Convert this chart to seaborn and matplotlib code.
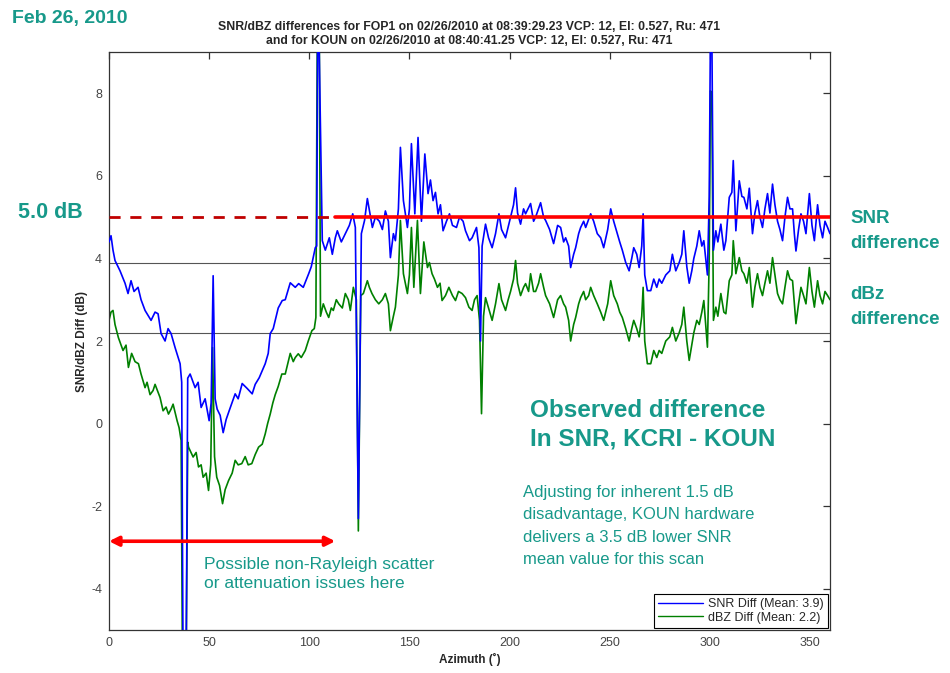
import numpy as np
import pandas as pd
import matplotlib
matplotlib.use("Agg")
import matplotlib.pyplot as plt
import seaborn as sns
from matplotlib.lines import Line2D

# ---------------- data ----------------
SNR_AZ = [0, 1, 2, 3, 5.5, 8, 9.5, 11, 12.5, 14.5, 16, 18, 21, 23, 24.5, 26, 28, 29.5, 31, 33,
          35.5, 36.3, 37, 38.5, 39.3, 40.5, 43, 44.5, 46, 48, 50, 51, 52, 53, 54, 55.5, 57, 58.5,
          60, 63, 64.5, 66.5, 69, 71.5, 73, 75, 78, 79.5, 80.5, 82, 83, 84.5, 86.5, 88, 90.5, 93,
          94.7, 97, 99.7, 101, 103, 103.7, 104.2, 104.8, 106.5, 108, 110, 111.5, 113, 114, 116,
          118, 120, 121.7, 123, 124.5, 126, 127.6, 129, 131.5, 133, 135, 136.5, 138, 139.5,
          140.5, 142, 143, 144.5, 145.5, 147, 149, 150, 151, 152.7, 154.3, 156, 157.7, 159.3,
          160.5, 161.8, 163, 164.3, 165.5, 166.8, 168.5, 170, 171.5, 173.5, 175, 176.8, 178,
          180, 181.3, 183.5, 184.7, 185.5, 186.3, 188, 189.5, 191.3, 193, 194.7, 196, 198,
          200.5, 202, 203, 204, 205.5, 207, 208, 210.5, 212, 213, 215.5, 217, 218, 220, 222,
          224, 225.5, 227, 228, 229.5, 230.5, 232, 233, 234.5, 235.5, 237, 238, 240.5, 242,
          243.8, 245.5, 247, 249, 250.5, 252, 253.8, 255, 256.3, 258, 259.7, 261, 262, 263.5,
          264.7, 266, 266.7, 267.5, 268.8, 270.5, 272, 273.5, 274.7, 276, 278, 280, 281.3, 283,
          284.7, 286, 287, 288.5, 289.7, 291, 292, 293.5, 294.7, 296, 297, 298.8, 299.7, 300.3,
          301, 301.8, 303, 304, 305.5, 307, 308, 309.7, 311, 311.7, 313, 314.7, 316, 317,
          318.5, 319.7, 321.3, 322.5, 323.8, 325, 326.3, 327.5, 328.8, 330, 331.3, 332.5,
          333.8, 335, 336.3, 337.5, 338.8, 340, 341.3, 342.2, 343, 344.3, 345.5, 346.8, 348,
          349.7, 351, 352.2, 353.8, 355, 356.3, 357.5, 358.8, 360]
SNR_DIFF = [4.4, 4.55, 4.2, 3.95, 3.7, 3.4, 3.15, 3.46, 3.2, 3.3, 3.0, 2.74, 2.5, 2.7, 2.66, 2.18,
            2.0, 2.3, 2.18, 1.84, 1.45, 1.0, -6, -6, 1.1, 1.2, 0.87, 1.0, 0.39, 0.6, 0.07, 0.5,
            3.58, 0.6, 0.35, 0.2, -0.22, 0.1, 0.31, 0.72, 0.6, 0.97, 0.85, 0.72, 0.95, 1.11,
            1.45, 1.7, 2.18, 2.3, 2.5, 2.8, 2.98, 3.0, 3.41, 3.3, 3.39, 3.3, 3.63, 3.8, 4.26,
            4.3, 9.5, 9.5, 4.43, 4.2, 4.5, 4.1, 4.5, 4.67, 4.4, 4.6, 4.8, 5.08, 4.75, -2.3, 4.6,
            4.92, 5.45, 4.75, 5.0, 4.9, 4.7, 5.15, 4.9, 4.02, 4.6, 4.43, 5.2, 6.69, 5.4, 4.75,
            5.2, 6.78, 5.08, 6.93, 4.9, 6.53, 5.57, 5.9, 5.4, 5.6, 5.08, 5.3, 4.67, 4.9, 5.08,
            4.8, 4.75, 5.0, 4.9, 4.67, 4.43, 4.5, 4.75, 4.26, 2.0, 4.3, 4.83, 4.5, 4.26, 4.6,
            5.08, 4.7, 4.5, 5.0, 5.3, 5.71, 5.1, 4.83, 5.2, 5.08, 5.33, 4.9, 5.0, 5.35, 5.0,
            4.92, 4.7, 4.36, 4.8, 4.75, 4.4, 4.5, 4.3, 3.78, 4.1, 4.26, 4.6, 4.75, 4.9, 4.75,
            5.08, 4.9, 4.6, 4.5, 4.26, 4.7, 5.2, 4.9, 4.6, 4.4, 4.2, 3.9, 3.7, 4.0, 4.26, 4.1,
            3.78, 4.3, 5.08, 3.6, 3.22, 3.22, 3.5, 3.3, 3.5, 3.4, 3.6, 3.7, 4.1, 3.7, 3.9, 4.1,
            4.67, 3.8, 3.4, 3.7, 4.0, 4.3, 4.67, 4.3, 4.43, 3.6, 5.5, 9.5, 9.5, 4.2, 4.67, 4.4,
            4.83, 4.2, 4.43, 5.48, 5.6, 6.37, 4.67, 5.88, 5.5, 5.48, 5.2, 5.7, 4.6, 5.1, 5.4,
            5.0, 4.75, 5.2, 5.57, 5.1, 5.8, 5.3, 4.9, 4.7, 4.43, 5.0, 5.48, 5.2, 5.2, 4.6, 4.18,
            4.7, 5.08, 4.9, 4.6, 5.57, 4.8, 4.43, 5.3, 4.8, 4.5, 4.9, 4.75, 4.6]

DBZ_AZ = [0, 1, 2, 3, 4.7, 7, 8.5, 9.7, 11.3, 13, 14.7, 16, 18, 19, 20.5, 22, 23, 25.5, 27, 28.5,
          29.7, 31, 32, 34, 35, 36, 36.7, 38.5, 39.3, 39.7, 42, 43.5, 44.7, 46, 47, 48.5, 49.7,
          50.8, 51.7, 52.7, 53.8, 55.2, 56.7, 58, 59.7, 61.5, 63, 64.5, 66.3, 68, 69.5, 71.3,
          73, 74.7, 76.5, 78, 79.2, 80.5, 81.8, 83, 84.5, 86.3, 88, 89.5, 90.5, 92, 93, 94.5,
          96, 98, 99.5, 101.3, 102.5, 103.3, 104, 105, 105.6, 107, 108.5, 109.7, 111, 112,
          113.5, 114.7, 116.5, 118, 119.5, 120.5, 122, 123.5, 124.5, 125.7, 127, 129, 130,
          131.3, 133, 134.7, 136.5, 138, 139.5, 140.5, 142, 143, 144.5, 145.5, 147, 149, 150,
          151, 152.2, 154, 155.5, 157.2, 159, 160, 161.3, 162.5, 164, 165.3, 166.3, 168,
          169.7, 171.5, 173, 174.5, 176.3, 178, 179.7, 181.3, 182.5, 183.8, 185, 186, 187,
          188, 189.5, 191.3, 193, 194.7, 196, 198, 199.3, 200.5, 202, 203, 204, 205.5, 207,
          208, 209.5, 210.5, 212, 213, 214.5, 215.5, 217, 218, 220, 222, 224, 225.5, 227, 228,
          229.5, 230.5, 232, 233, 234.5, 235.5, 237, 238, 239.5, 240.5, 242, 243.8, 245.5,
          247, 249, 250.5, 252, 253.8, 255, 256.3, 258, 259.7, 261, 262, 263.5, 264.7, 266,
          266.7, 267.5, 268.8, 270.5, 272, 273.5, 274.7, 276, 278, 280, 281.3, 283, 284.7,
          286, 287, 288.5, 289.7, 291, 292, 293.5, 294.7, 296, 297, 298.8, 299.7, 300.3, 301,
          301.8, 303, 304, 305.5, 307, 308, 309.7, 311, 311.7, 313, 314.7, 316, 317, 318.5,
          319.7, 321.3, 322.5, 323.8, 325, 326.3, 327.5, 328.8, 330, 331.3, 332.5, 333.8, 335,
          336.3, 337.5, 338.8, 340, 341.3, 342.2, 343, 344.3, 345.5, 346.8, 348, 349.7, 351,
          352.2, 353.8, 355, 356.3, 357.5, 358.8, 360]
DBZ_DIFF = [2.5, 2.7, 2.74, 2.4, 2.08, 1.77, 1.9, 1.36, 1.7, 1.5, 1.45, 1.2, 0.87, 1.0, 0.7, 0.8,
            0.95, 0.63, 0.31, 0.4, 0.23, 0.35, 0.47, 0.07, -0.1, -0.41, -6, -6, -0.45, -0.57,
            -0.81, -0.7, -1.05, -1.0, -1.3, -1.2, -1.62, -1.0, 1.84, -0.8, -1.3, -1.5, -1.94,
            -1.6, -1.38, -1.2, -0.89, -1.0, -0.97, -0.8, -1.0, -0.97, -0.75, -0.57, -0.5, -0.25,
            0.0, 0.23, 0.5, 0.7, 0.9, 1.2, 1.2, 1.5, 1.7, 1.5, 1.6, 1.69, 1.6, 1.77, 2.0, 2.25,
            2.3, 2.57, 9.5, 9.5, 2.6, 2.9, 2.7, 2.57, 2.8, 2.74, 3.0, 2.9, 2.8, 3.15, 3.0, 2.74,
            3.3, 3.0, -2.6, 3.1, 3.15, 3.46, 3.3, 3.15, 3.0, 2.9, 3.0, 3.15, 2.9, 2.25, 2.6,
            2.82, 3.6, 4.92, 3.63, 3.15, 3.6, 4.75, 3.3, 4.92, 3.15, 4.4, 3.78, 3.9, 3.63, 3.5,
            3.3, 3.4, 2.98, 3.1, 3.3, 3.1, 2.98, 3.2, 3.15, 3.05, 2.82, 2.74, 3.0, 3.1, 2.5,
            0.24, 2.6, 3.05, 2.8, 2.5, 2.9, 3.39, 3.0, 2.74, 3.0, 3.2, 3.5, 3.95, 3.4, 3.1, 3.3,
            3.39, 3.2, 3.63, 3.2, 3.2, 3.4, 3.63, 3.3, 3.1, 2.9, 2.57, 3.0, 3.1, 2.9, 2.82, 2.5,
            2.0, 2.4, 2.57, 2.9, 3.05, 3.2, 3.0, 3.1, 3.3, 3.1, 2.9, 2.7, 2.5, 2.9, 3.46, 3.1,
            2.9, 2.7, 2.57, 2.3, 2.0, 2.3, 2.5, 2.3, 2.1, 2.6, 3.3, 2.0, 1.45, 1.45, 1.77, 1.6,
            1.77, 1.7, 2.0, 2.1, 2.33, 2.0, 2.2, 2.4, 2.82, 2.0, 1.53, 1.9, 2.2, 2.5, 2.4, 2.7,
            2.98, 1.85, 4.0, 8.06, 8.0, 2.5, 2.82, 2.6, 3.15, 2.7, 2.66, 3.46, 3.6, 4.43, 3.63,
            4.02, 3.7, 3.63, 3.4, 3.78, 2.82, 3.3, 3.63, 3.3, 3.1, 3.4, 3.7, 3.4, 4.02, 3.6,
            3.15, 3.0, 2.9, 3.3, 3.7, 3.5, 3.46, 2.9, 2.42, 2.9, 3.3, 3.1, 2.9, 3.78, 3.2, 2.82,
            3.46, 3.1, 2.9, 3.2, 3.1, 3.0]

SNR_MEAN = 3.9
DBZ_MEAN = 2.2
THRESHOLD_DB = 5.0
SPLIT_AZ = 113
ARROW_Y = -2.85
X_TICKS = [0, 50, 100, 150, 200, 250, 300, 350]
Y_TICKS = [-4, -2, 0, 2, 4, 6, 8]

TITLE = ("SNR/dBZ differences for FOP1 on 02/26/2010 at 08:39:29.23 VCP: 12, El: 0.527, Ru: 471\n"
         "and for KOUN on 02/26/2010 at 08:40:41.25 VCP: 12, El: 0.527, Ru: 471")
SNR_LABEL = f"SNR Diff (Mean: {SNR_MEAN})"
DBZ_LABEL = f"dBZ Diff (Mean: {DBZ_MEAN})"

# ---------------- styling ----------------
sns.set_theme(style="white")
plt.rcParams["font.family"] = ["Liberation Sans", "DejaVu Sans"]
plt.rcParams["axes.edgecolor"] = "#333333"
plt.rcParams["axes.linewidth"] = 0.9
plt.rcParams["axes.unicode_minus"] = False

TEAL = "#17998a"
BLUE = "#0000ff"
GREEN = "#008000"

fig = plt.figure(figsize=(9.5, 6.73), dpi=100)
fig.patch.set_facecolor("white")
ax = fig.add_axes([109 / 950, 1 - 630 / 673, (830 - 109) / 950, (630 - 52) / 673])

snr_df = pd.DataFrame({"azimuth": SNR_AZ, "diff": SNR_DIFF})
dbz_df = pd.DataFrame({"azimuth": DBZ_AZ, "diff": DBZ_DIFF})

ax.axhline(SNR_MEAN, color="#555555", lw=0.8, zorder=1)
ax.axhline(DBZ_MEAN, color="#555555", lw=0.8, zorder=1)

sns.lineplot(data=snr_df, x="azimuth", y="diff", ax=ax, color=BLUE, lw=1.2,
             sort=False, estimator=None, zorder=3)
sns.lineplot(data=dbz_df, x="azimuth", y="diff", ax=ax, color=GREEN, lw=1.2,
             sort=False, estimator=None, zorder=2)

ax.plot([0, SPLIT_AZ], [THRESHOLD_DB, THRESHOLD_DB], color="#c00000", lw=2, ls=(0, (4, 3.5)), zorder=4)
ax.plot([SPLIT_AZ, 360], [THRESHOLD_DB, THRESHOLD_DB], color="#ff0000", lw=2.6, zorder=4)
ax.annotate("", xy=(0, ARROW_Y), xytext=(SPLIT_AZ, ARROW_Y),
            arrowprops=dict(arrowstyle="<|-|>", color="#ff0000", lw=2.6,
                            mutation_scale=14, shrinkA=0, shrinkB=0), zorder=5)

ax.set_xlim(0, 360)
ax.set_ylim(-5, 9)
ax.set_xticks(X_TICKS)
ax.set_yticks(Y_TICKS)
ax.tick_params(direction="in", length=5, width=0.9, top=True, right=True,
               labelsize=9, labelcolor="#444444", color="#333333", pad=5)
for s in ax.spines.values():
    s.set_visible(True)
ax.set_xlabel("Azimuth (˚)", fontsize=8.5, fontweight="bold", labelpad=3)
ax.set_ylabel("SNR/dBZ Diff (dB)", fontsize=8.5, fontweight="bold", labelpad=2)
ax.set_title(TITLE, fontsize=8.8, fontweight="bold", pad=6, linespacing=1.2)

handles = [Line2D([0], [0], color=BLUE, lw=1), Line2D([0], [0], color=GREEN, lw=1)]
leg = ax.legend(handles, [SNR_LABEL, DBZ_LABEL], loc="lower right", fontsize=9,
                frameon=True, fancybox=False, edgecolor="black", framealpha=1,
                borderaxespad=0.2, handlelength=3.6, borderpad=0.3, labelspacing=0.15,
                handletextpad=0.4)
leg.get_frame().set_linewidth(0.8)

# ---------------- annotations ----------------
fig.text(12 / 950, 1 - 18 / 673, "Feb 26, 2010", color=TEAL, fontsize=14,
         fontweight="bold", va="center", ha="left")
fig.text(18 / 950, 1 - 213 / 673, "5.0 dB", color=TEAL, fontsize=15.5,
         fontweight="bold", va="center", ha="left")
fig.text(850 / 950, 1 - 231 / 673, "SNR\ndifference", color=TEAL, fontsize=13.5,
         fontweight="bold", va="center", ha="left", linespacing=1.6)
fig.text(850 / 950, 1 - 307 / 673, "dBz\ndifference", color=TEAL, fontsize=13.5,
         fontweight="bold", va="center", ha="left", linespacing=1.55)
fig.text(530 / 950, 1 - 425 / 673, "Observed difference\nIn SNR, KCRI - KOUN", color=TEAL,
         fontsize=17.5, fontweight="bold", va="center", ha="left", linespacing=1.3)
fig.text(523 / 950, 1 - 526 / 673,
         "Adjusting for inherent 1.5 dB\ndisadvantage, KOUN hardware\n"
         "delivers a 3.5 dB lower SNR\nmean value for this scan",
         color=TEAL, fontsize=12, va="center", ha="left", linespacing=1.6)
fig.text(204 / 950, 1 - 574 / 673, "Possible non-Rayleigh scatter\nor attenuation issues here",
         color=TEAL, fontsize=12.5, va="center", ha="left", linespacing=1.35)

fig.savefig("out.png", dpi=100, facecolor="white")
